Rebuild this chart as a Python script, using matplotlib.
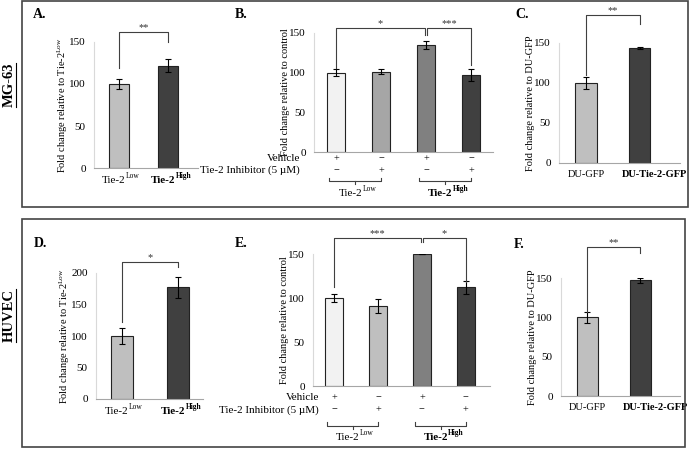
import matplotlib
matplotlib.use('Agg')
import matplotlib.pyplot as plt
from matplotlib.patches import Rectangle
from matplotlib.transforms import offset_copy

plt.rcParams['font.family'] = ['Liberation Serif', 'DejaVu Serif']
plt.rcParams['mathtext.fontset'] = 'custom'
plt.rcParams['mathtext.rm'] = 'Liberation Serif'
plt.rcParams['mathtext.bf'] = 'Liberation Serif:bold'
plt.rcParams['mathtext.it'] = 'Liberation Serif:italic'

# ---- data ----
group_base = 'Tie-2'
group_sup = ['Low', 'High']
du_labels = ['DU-GFP', 'DU-Tie-2-GFP']
vehicle = ['+', '\u2212', '+', '\u2212']
inhibitor = ['\u2212', '+', '\u2212', '+']

a_vals = [100, 122]
a_err = [6, 8]
b_vals = [100, 101, 135, 97]
b_err = [4, 3, 5, 8]
c_vals = [100, 144]
c_err = [8, 1.5]
d_vals = [100, 177]
d_err = [12, 17]
e_vals = [100, 91, 150, 112]
e_err = [4, 8, 0, 7]
f_vals = [100, 147]
f_err = [7, 3]

two_cols = ['#bfbfbf', '#404040']
b_cols = ['#f2f2f2', '#a6a6a6', '#808080', '#404040']
e_cols = ['#f2f2f2', '#bfbfbf', '#808080', '#404040']

W, H = 690, 450
fig = plt.figure(figsize=(W / 100, H / 100), dpi=100)


def px_axes(x0, x1, y0, ytop):
    return fig.add_axes([x0 / W, (H - y0) / H, (x1 - x0) / W, (y0 - ytop) / H])


def style(ax, ylim, yticks, xlim):
    ax.set_ylim(*ylim)
    ax.set_xlim(*xlim)
    ax.set_yticks(yticks)
    ax.set_xticks([])
    for s in ['top', 'right']:
        ax.spines[s].set_visible(False)
    ax.spines['left'].set_color('#d9d9d9')
    ax.spines['bottom'].set_color('#a6a6a6')
    ax.tick_params(length=0, labelsize=8, pad=6)


def bars(ax, vals, err, cols, width):
    xs = list(range(len(vals)))
    ax.bar(xs, vals, width=width, color=cols, edgecolor='#222222', linewidth=0.8,
           yerr=err, error_kw=dict(ecolor='black', elinewidth=0.8, capsize=2.5, capthick=0.8))
    return xs


def sig(ax, x1, x2, y1, y2, top, text):
    ax.plot([x1, x1, x2, x2], [y1, top, top, y2], color='#404040', lw=0.8, clip_on=False)
    ax.text((x1 + x2) / 2, top, text, ha='center', va='bottom', fontsize=7.5,
            color='#333333', clip_on=False)


def sup_label(ax, x, y, k, va, size=8):
    # "Tie-2" with a small raised Low/High, the High one in bold
    weight = 'bold' if k == 1 else 'normal'
    trans = offset_copy(ax.get_xaxis_transform(), fig=fig, x=-size * 0.45, y=0, units='points')
    t = ax.text(x, y, group_base, transform=trans, ha='center', va=va, fontsize=size,
                fontweight=weight)
    ax.annotate(group_sup[k], xy=(1.02, 0.5), xycoords=t, ha='left', va='bottom',
                fontsize=size * 0.68, fontweight=weight)


def ylab_low(ax, size=7.5):
    ax.set_ylabel('Fold change relative to Tie-2$^{\\mathrm{Low}}$', fontsize=size, labelpad=-1)


def two_panel(ax, vals, err, du=False):
    xs = bars(ax, vals, err, two_cols, 0.4)
    trans = ax.get_xaxis_transform()
    if du:
        for i, (x, lab) in enumerate(zip(xs, du_labels)):
            ax.text(x + (0.28 if i == 1 else 0), -0.06, lab, transform=trans, ha='center',
                    va='top', fontsize=7.5, fontweight='bold' if i == 1 else 'normal')
    else:
        for i, x in enumerate(xs):
            sup_label(ax, x, -0.06, i, 'top')


def group_rows(ax, lab_x, y_veh, y_inh, y_br, y_lab, xs):
    trans = ax.get_xaxis_transform()
    for x, v, i in zip(xs, vehicle, inhibitor):
        ax.text(x, y_veh, v, transform=trans, ha='center', va='center', fontsize=7.5)
        ax.text(x, y_inh, i, transform=trans, ha='center', va='center', fontsize=7.5)
    ax.text(lab_x, y_veh, 'Vehicle', transform=trans, ha='right', va='center', fontsize=8)
    ax.text(lab_x, y_inh, 'Tie-2 Inhibitor (5 \u00b5M)', transform=trans, ha='right',
            va='center', fontsize=8)
    for k in range(2):
        a, b = xs[2 * k] - 0.15, xs[2 * k + 1] + 0.0
        m = (a + b) / 2
        ax.plot([a, a, b, b], [y_br + 0.025, y_br, y_br, y_br + 0.025], transform=trans,
                color='#404040', lw=0.8, clip_on=False)
        ax.plot([m, m], [y_br, y_br - 0.025], transform=trans, color='#404040', lw=0.8,
                clip_on=False)
        sup_label(ax, m, y_lab, k, 'center')


# ---- panel A ----
ax = px_axes(94, 198, 168, 42)
style(ax, (0, 150), [0, 50, 100, 150], (-0.5, 1.6))
two_panel(ax, a_vals, a_err)
ylab_low(ax)
sig(ax, 0, 1, 119, 150, 162, '**')

# ---- panel B ----
ax = px_axes(314, 493, 152, 33)
style(ax, (0, 150), [0, 50, 100, 150], (-0.49, 3.49))
xs = bars(ax, b_vals, b_err, b_cols, 0.42)
ax.set_ylabel('Fold change relative to control', fontsize=7.5, labelpad=-1)
sig(ax, 0, 1.97, 106, 148, 156, '*')
sig(ax, 2.03, 3, 148, 110, 156, '***')
group_rows(ax, -0.8, -0.055, -0.155, -0.24, -0.345, xs)

# ---- panel C ----
ax = px_axes(559, 680, 163, 43)
style(ax, (0, 150), [0, 50, 100, 150], (-0.5, 1.75))
two_panel(ax, c_vals, c_err, du=True)
ax.set_ylabel('Fold change relative to DU-GFP', fontsize=7.5, labelpad=-1)
sig(ax, 0, 1, 110, 174, 185, '**')

# ---- panel D ----
ax = px_axes(96, 203, 399, 273)
style(ax, (0, 200), [0, 50, 100, 150, 200], (-0.46, 1.45))
two_panel(ax, d_vals, d_err)
ylab_low(ax)
sig(ax, 0, 1, 122, 209, 217, '*')

# ---- panel E ----
ax = px_axes(313, 490, 386, 254)
style(ax, (0, 150), [0, 50, 100, 150], (-0.48, 3.55))
xs = bars(ax, e_vals, e_err, e_cols, 0.41)
ax.set_ylabel('Fold change relative to control', fontsize=7.5, labelpad=-1)
sig(ax, 0, 1.97, 112, 164, 168, '***')
sig(ax, 2.03, 3, 164, 118, 168, '*')
group_rows(ax, -0.34, -0.09, -0.18, -0.3, -0.39, xs)

# ---- panel F ----
ax = px_axes(561, 680, 396, 278)
style(ax, (0, 150), [0, 50, 100, 150], (-0.5, 1.75))
two_panel(ax, f_vals, f_err, du=True)
ax.set_ylabel('Fold change relative to DU-GFP', fontsize=7.5, labelpad=-1)
sig(ax, 0, 1, 107, 182, 189, '**')

# ---- frames, panel letters, row labels ----
for x0, y0, x1, y1 in [(22, 1, 688, 207), (22, 219, 685, 447)]:
    fig.add_artist(Rectangle((x0 / W, (H - y1) / H), (x1 - x0) / W, (y1 - y0) / H,
                             transform=fig.transFigure, fill=False, edgecolor='#444444', lw=1.2))

for lab, x, y in [('A.', 33, 15), ('B.', 235, 15), ('C.', 515, 15),
                  ('D.', 34, 243), ('E.', 235, 243), ('F.', 514, 245)]:
    fig.text(x / W, 1 - y / H, lab, fontsize=10, fontweight='bold', va='center', ha='left')

for lab, y in [('MG-63', 85), ('HUVEC', 315)]:
    fig.text(9 / W, 1 - y / H, lab, fontsize=10.5, fontweight='bold', rotation=90,
             va='center', ha='center')

# underline row labels
fig.canvas.draw()
for t in fig.texts:
    if t.get_rotation() == 90:
        bb = t.get_window_extent().transformed(fig.transFigure.inverted())
        fig.add_artist(plt.Line2D([bb.x1 + 0.001, bb.x1 + 0.001], [bb.y0, bb.y1],
                                  transform=fig.transFigure, color='black', lw=0.8))

fig.savefig('out.png', dpi=100)
